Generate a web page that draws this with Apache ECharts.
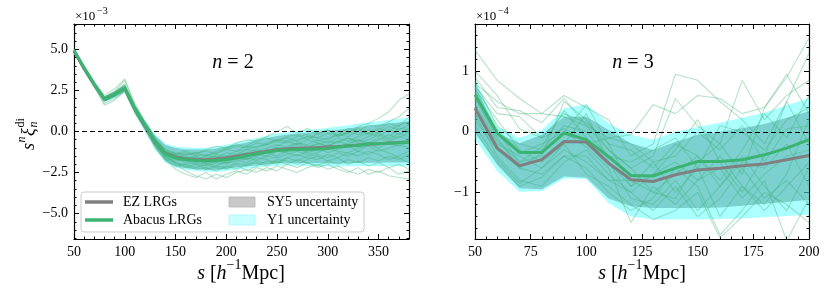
<!DOCTYPE html>
<html><head><meta charset="utf-8">
<script src="https://cdn.jsdelivr.net/npm/echarts@6/dist/echarts.min.js"></script>
<style>html,body{margin:0;padding:0;background:#fff}#c{width:831px;height:295px}</style>
</head><body><div id="c"></div>
<script>
// ---------------- DATA ----------------
const leftX = [50,60,70,80,90,100,110,120,130,140,150,160,170,180,190,200,210,220,230,240,250,260,270,280,290,300,310,320,330,340,350,360,370,380];
const ezLeft = [4.90,3.82,2.85,1.98,2.25,2.62,1.35,0.33,-0.65,-1.32,-1.56,-1.66,-1.70,-1.72,-1.68,-1.60,-1.50,-1.40,-1.30,-1.20,-1.10,-1.05,-1.02,-1.00,-0.98,-0.95,-0.92,-0.87,-0.82,-0.78,-0.74,-0.70,-0.67,-0.63];
const abacusLeft = [4.94,3.88,2.88,1.95,2.25,2.65,1.38,0.40,-0.62,-1.36,-1.61,-1.71,-1.77,-1.80,-1.77,-1.71,-1.61,-1.48,-1.36,-1.26,-1.16,-1.12,-1.10,-1.08,-1.08,-1.04,-0.95,-0.89,-0.85,-0.75,-0.75,-0.71,-0.69,-0.65];
const sy5HiLeft = [5.02,3.94,2.99,2.14,2.43,2.82,1.60,0.63,-0.25,-0.82,-1.01,-1.08,-1.10,-1.10,-1.03,-0.92,-0.80,-0.67,-0.54,-0.40,-0.27,-0.19,-0.12,-0.07,-0.02,0.05,0.11,0.19,0.28,0.35,0.42,0.49,0.55,0.62];
const sy5LoLeft = [4.78,3.70,2.71,1.82,2.07,2.42,1.10,0.03,-1.05,-1.82,-2.11,-2.24,-2.30,-2.34,-2.33,-2.28,-2.20,-2.13,-2.06,-2.00,-1.93,-1.91,-1.92,-1.93,-1.94,-1.95,-1.95,-1.93,-1.92,-1.91,-1.90,-1.89,-1.89,-1.88];
const y1HiLeft = [5.04,3.96,3.02,2.17,2.46,2.86,1.65,0.68,-0.18,-0.73,-0.91,-0.98,-0.99,-0.99,-0.91,-0.80,-0.67,-0.54,-0.40,-0.26,-0.12,-0.04,0.04,0.10,0.15,0.23,0.30,0.38,0.48,0.55,0.63,0.70,0.77,0.85];
const y1LoLeft = [4.76,3.68,2.68,1.79,2.04,2.38,1.05,-0.02,-1.12,-1.91,-2.21,-2.34,-2.41,-2.45,-2.45,-2.40,-2.33,-2.26,-2.20,-2.14,-2.08,-2.06,-2.08,-2.10,-2.11,-2.13,-2.14,-2.12,-2.12,-2.11,-2.11,-2.10,-2.11,-2.11];
const mockL1 = [5.0,3.9,2.9,2.0,2.35,2.8,1.5,0.4,-0.6,-1.3,-1.5,-1.6,-1.5,-1.7,-1.4,-1.5,-1.2,-1.1,-0.9,-0.8,-0.6,-0.7,-0.5,-0.3,-0.6,-0.4,-0.2,-0.1,0.3,0.5,0.8,1.2,1.9,2.3];
const mockL2 = [4.9,3.8,2.8,1.9,2.2,2.6,1.3,0.3,-0.7,-1.5,-1.9,-2.1,-2.3,-2.2,-2.4,-2.1,-2.3,-2.0,-1.9,-2.1,-1.8,-2.0,-1.7,-1.9,-2.2,-2.0,-2.3,-2.5,-2.2,-2.6,-2.4,-2.7,-2.8,-2.9];
const mockL3 = [4.95,3.85,2.9,2.05,2.35,2.75,1.4,0.45,-0.5,-1.1,-1.3,-1.4,-1.3,-1.5,-1.2,-1.0,-0.8,-0.9,-0.5,-0.4,-0.6,-0.3,-0.2,-0.5,-0.1,0.1,-0.2,0.2,0.0,0.4,0.3,0.6,0.9,1.4];
const mockL4 = [4.9,3.75,2.75,1.85,2.15,2.55,1.25,0.25,-0.8,-1.6,-2.0,-2.4,-2.7,-2.9,-2.6,-2.8,-2.5,-2.3,-2.5,-2.2,-2.4,-2.0,-2.2,-1.9,-2.1,-1.8,-2.0,-1.7,-1.9,-1.6,-1.8,-1.5,-1.7,-1.4];
const mockL5 = [5.0,3.9,2.95,2.1,2.4,2.9,1.55,0.5,-0.55,-1.25,-1.45,-1.5,-1.7,-1.5,-1.3,-1.1,-1.2,-0.9,-1.0,-0.7,-0.5,-0.6,-0.3,-0.2,-0.4,-0.5,-0.2,-0.3,0.0,-0.1,0.2,0.0,0.4,0.6];
const mockL6 = [4.92,3.8,2.85,1.95,2.25,2.65,1.35,0.35,-0.6,-1.4,-1.7,-1.8,-2.0,-1.9,-2.1,-1.8,-1.6,-1.7,-1.4,-1.5,-1.2,-1.3,-1.5,-1.2,-1.0,-1.3,-1.1,-0.9,-1.2,-0.8,-1.0,-0.7,-0.9,-0.6];
const mockL7 = [4.88,3.75,2.8,1.9,2.2,2.6,1.3,0.3,-0.7,-1.4,-1.6,-1.9,-1.7,-2.0,-2.2,-2.3,-2.0,-2.4,-2.1,-1.8,-2.0,-1.6,-1.8,-1.5,-1.4,-1.6,-1.3,-1.5,-1.2,-1.4,-1.1,-1.3,-1.6,-1.9];
const mockL8 = [4.96,3.88,2.88,2.0,2.3,2.7,1.4,0.4,-0.6,-1.3,-1.6,-1.6,-1.8,-1.6,-1.5,-1.6,-1.4,-1.3,-1.5,-1.1,-1.2,-0.9,-0.7,-0.9,-0.8,-0.6,-0.7,-0.4,-0.6,-0.3,-0.1,-0.4,0.2,0.1];
const mockL9 = [4.93,3.83,2.82,1.92,2.28,2.62,1.32,0.32,-0.68,-1.45,-1.8,-1.7,-1.9,-1.7,-1.6,-1.8,-1.5,-1.6,-1.2,-1.3,-1.0,-1.1,-0.8,-1.0,-0.7,-0.9,-0.6,-0.8,-0.5,-0.7,-0.4,-0.6,-0.3,-0.5];
const mockL10 = [4.97,3.86,2.87,1.98,2.32,2.72,1.42,0.42,-0.58,-1.35,-1.5,-1.65,-1.6,-1.85,-1.7,-1.9,-1.8,-1.6,-1.75,-1.5,-1.6,-1.4,-1.2,-1.4,-1.3,-1.0,-1.2,-1.3,-1.0,-0.9,-1.2,-1.0,-0.8,-1.0];
const mockL11 = [4.9,3.78,2.78,1.88,2.18,2.58,1.28,0.28,-0.72,-1.5,-1.9,-2.0,-1.9,-2.1,-1.9,-2.0,-1.7,-1.9,-1.6,-1.7,-1.9,-1.6,-1.4,-1.6,-1.7,-1.4,-1.6,-2.0,-1.8,-2.1,-1.9,-2.2,-2.0,-2.3];
const mockL12 = [4.95,3.86,2.86,1.96,2.26,2.66,1.36,0.36,-0.64,-1.3,-1.4,-1.45,-1.3,-1.2,-1.35,-1.1,-0.9,-1.0,-0.7,-0.8,-0.5,-0.4,-0.6,-0.3,-0.4,-0.1,-0.3,0.0,-0.2,0.1,-0.1,0.3,0.1,0.4];
const mockL13 = [4.91,3.79,2.79,1.89,2.19,2.59,1.29,0.29,-0.75,-1.7,-2.3,-2.6,-2.8,-2.5,-2.9,-2.6,-2.4,-2.6,-2.2,-2.4,-2.1,-2.3,-2.5,-2.2,-2.0,-2.3,-2.1,-2.4,-2.6,-2.3,-2.5,-2.2,-2.6,-2.4];
const mockL14 = [4.98,3.9,2.92,2.02,2.38,2.82,1.45,0.42,-0.55,-1.2,-1.35,-1.2,-1.4,-1.1,-0.9,-1.0,-0.7,-0.5,-0.6,-0.3,0.0,0.3,-0.1,0.2,-0.2,0.1,-0.3,-0.1,0.2,-0.2,0.1,0.5,0.3,0.9];
const mockL15 = [4.85,3.7,2.7,1.7,2.0,2.4,1.15,0.15,-0.9,-1.7,-2.1,-2.0,-2.2,-2.0,-1.8,-1.9,-1.6,-1.7,-1.5,-1.3,-1.5,-1.2,-1.0,-1.3,-1.1,-0.8,-1.0,-0.7,-0.5,-0.8,-0.5,-0.2,-0.4,0.0];
const mockL16 = [5.05,4.0,3.05,2.2,2.6,3.2,1.7,0.6,-0.4,-1.1,-1.4,-1.3,-1.5,-1.4,-1.6,-1.3,-1.4,-1.1,-1.2,-1.0,-0.8,-1.0,-0.7,-0.8,-0.5,-0.7,-0.4,-0.6,-0.3,-0.1,-0.3,0.1,-0.2,0.2];
const mockL17 = [4.9,3.72,2.72,1.6,1.9,2.5,1.2,0.2,-0.85,-1.55,-1.9,-2.2,-2.0,-2.3,-2.1,-2.2,-1.9,-2.1,-1.8,-2.0,-1.7,-1.8,-2.0,-1.7,-1.5,-1.8,-1.6,-1.3,-1.5,-1.2,-1.4,-1.7,-1.5,-1.2];
const mockL18 = [4.95,3.9,2.9,2.1,2.45,3.1,1.6,0.5,-0.5,-1.2,-1.5,-1.7,-1.6,-1.8,-1.9,-1.7,-1.5,-1.3,-1.1,-1.3,-0.9,-0.6,-0.8,-0.5,-0.7,-0.9,-0.6,-0.4,-0.7,-0.5,-0.2,-0.5,-0.1,-0.3];
const mocksLeft = [mockL1,mockL2,mockL3,mockL4,mockL5,mockL6,mockL7,mockL8,mockL9,mockL10,mockL11,mockL12,mockL13,mockL14,mockL15,mockL16,mockL17,mockL18];

const rightX = [50,60,70,80,90,100,110,120,130,140,150,160,170,180,190,200];
const ezRight = [0.39,-0.27,-0.56,-0.46,-0.16,-0.17,-0.52,-0.79,-0.82,-0.71,-0.63,-0.60,-0.56,-0.53,-0.46,-0.39];
const abacusRight = [0.61,-0.02,-0.34,-0.34,-0.02,-0.13,-0.41,-0.72,-0.73,-0.60,-0.49,-0.49,-0.46,-0.38,-0.27,-0.13];
const sy5HiRight = [0.78,-0.02,-0.19,-0.05,0.25,0.25,0.03,-0.19,-0.30,-0.17,-0.05,0.00,0.06,0.13,0.23,0.34];
const sy5LoRight = [0.00,-0.55,-0.93,-0.95,-0.74,-0.76,-1.10,-1.23,-1.26,-1.26,-1.26,-1.25,-1.22,-1.19,-1.16,-1.12];
const y1HiRight = [0.88,0.08,-0.10,0.03,0.39,0.45,0.14,-0.05,-0.13,0.00,0.08,0.15,0.23,0.32,0.44,0.56];
const y1LoRight = [-0.12,-0.65,-0.99,-0.98,-0.77,-0.78,-1.18,-1.40,-1.45,-1.45,-1.45,-1.44,-1.43,-1.41,-1.39,-1.37];
const mockR1 = [1.35,0.85,0.55,0.3,0.25,0.1,-0.1,-0.05,0.45,0.3,0.6,0.55,0.3,0.4,0.9,1.55];
const mockR2 = [0.8,0.5,0.3,0.3,0.6,0.4,0.2,-0.4,-0.2,0.95,0.85,0.5,0.2,-0.2,0.5,1.3];
const mockR3 = [0.9,0.4,0.35,0.15,0.55,0.1,-0.3,-0.6,-0.4,0.55,0.1,-0.2,0.85,0.2,0.6,0.85];
const mockR4 = [0.55,-0.1,-0.6,-0.35,0.0,0.45,-0.2,-0.9,-0.5,-1.0,-0.6,-1.4,-0.9,-1.2,-0.7,0.2];
const mockR5 = [0.7,0.2,-0.3,-0.5,-0.2,0.3,-0.5,-1.1,-1.2,-0.8,-1.3,-0.9,-0.4,-0.9,-1.3,-0.6];
const mockR6 = [0.3,-0.4,-0.8,-0.9,-0.5,-0.3,-0.7,-1.0,-0.7,-0.3,0.2,-0.5,-1.0,-0.4,0.5,-0.2];
const mockR7 = [0.2,-0.3,-0.6,-0.7,-0.4,-0.6,-1.0,-1.3,-1.1,-0.6,-0.9,-1.7,-1.3,-0.8,-1.8,-1.1];
const mockR8 = [0.6,0.0,-0.5,-0.4,0.5,0.2,-0.3,-0.6,-1.0,-1.1,-0.5,-0.2,-0.7,0.4,0.95,0.3];
const mockR9 = [0.4,-0.2,-0.4,-0.6,-0.3,-0.5,-0.8,-0.8,-1.0,-0.7,-0.4,-0.9,-0.5,-0.6,-0.2,-0.9];
const mockR10 = [0.8,0.1,-0.2,-0.3,0.1,0.0,-0.4,-0.5,-0.3,-0.1,-0.6,0.1,0.0,-0.3,0.2,0.4];
const mockR11 = [0.1,-0.45,-0.85,-0.6,-0.2,-0.7,-0.9,-1.2,-1.45,-1.3,-1.0,-1.75,-1.4,-1.0,-1.2,-1.5];
const mockR12 = [0.65,0.05,-0.35,-0.2,0.0,-0.25,-0.6,-1.5,-0.9,-1.2,-0.8,-0.6,-1.1,-0.7,-0.4,-0.3];
const mockR13 = [1.0,0.6,0.05,-0.1,0.3,0.15,-0.2,-0.3,-0.6,-0.2,-0.4,-0.8,-0.3,0.3,-0.1,0.6];
const mockR14 = [0.45,-0.15,-0.5,-0.25,0.35,-0.1,-0.5,-0.9,-0.7,-0.5,-0.8,-0.4,-0.9,-1.3,-0.9,-0.5];
const mockR15 = [0.0,-0.5,-0.9,-0.75,-0.4,-0.4,-0.8,-1.0,-1.3,-0.9,-1.4,-1.1,-0.6,-1.1,-0.8,-1.2];
const mockR16 = [0.75,0.3,0.25,-0.1,0.05,-0.2,-0.1,-0.2,-0.5,-0.4,0.0,-0.3,0.1,-0.5,0.05,0.1];
const mocksRight = [mockR1,mockR2,mockR3,mockR4,mockR5,mockR6,mockR7,mockR8,mockR9,mockR10,mockR11,mockR12,mockR13,mockR14,mockR15,mockR16];

// tick values
const leftXMajor = [50,100,150,200,250,300,350];
const leftXMinor = [60,70,80,90,110,120,130,140,160,170,180,190,210,220,230,240,260,270,280,290,310,320,330,340,360,370];
const leftYMajor = [-5,-2.5,0,2.5,5];
const leftYMinor = [-6.5,-6,-5.5,-4.5,-4,-3.5,-3,-2,-1.5,-1,-0.5,0.5,1,1.5,2,3,3.5,4,4.5,5.5,6,6.5];
const rightXMajor = [50,75,100,125,150,175,200];
const rightXMinor = [55,60,65,70,80,85,90,95,105,110,115,120,130,135,140,145,155,160,165,170,180,185,190,195];
const rightYMajor = [-1,0,1];
const rightYMinor = [-1.6,-1.4,-1.2,-0.8,-0.6,-0.4,-0.2,0.2,0.4,0.6,0.8,1.2,1.4,1.6];

// ---------------- STYLE ----------------
const SERIF = '"Liberation Serif", "DejaVu Serif", serif';
const GREEN = '#3cb371';
const GRAY = '#808080';
const THIN = 'rgba(60,179,113,0.38)';
const SY5_FILL = 'rgba(128,128,128,0.55)';
const Y1_FILL = 'rgba(0,255,255,0.33)';
const minus = s => s.replace('-', '\u2212');

const chart = echarts.init(document.getElementById('c'), null, {renderer: 'canvas'});

const grids = [
  {left: 74, top: 24, width: 335, height: 215},
  {left: 475, top: 24, width: 334, height: 215}
];
const ranges = [
  {xmin: 50, xmax: 380, ymin: -6.55, ymax: 6.55, xMaj: leftXMajor, xMin: leftXMinor, yMaj: leftYMajor, yMin: leftYMinor, yFmt: v => minus(v.toFixed(1))},
  {xmin: 50, xmax: 200, ymin: -1.77, ymax: 1.78, xMaj: rightXMajor, xMin: rightXMinor, yMaj: rightYMajor, yMin: rightYMinor, yFmt: v => minus(String(v))}
];

function axis(dim, g, pos, vals, len, labels, line, fmt) {
  const r = ranges[g];
  return {
    type: 'value', gridIndex: g, position: pos,
    min: dim === 'x' ? r.xmin : r.ymin, max: dim === 'x' ? r.xmax : r.ymax,
    axisLine: {show: line, onZero: false, lineStyle: {color: '#000', width: 1.2}},
    axisTick: {show: true, inside: true, length: len, customValues: vals, lineStyle: {color: '#000', width: 1}},
    axisLabel: {show: labels, customValues: vals, formatter: fmt, color: '#000', fontFamily: SERIF, fontSize: 14, margin: 6},
    splitLine: {show: false}, minorTick: {show: false}
  };
}
const xAxes = [], yAxes = [];
[0, 1].forEach(g => {
  const r = ranges[g];
  xAxes.push(axis('x', g, 'bottom', r.xMaj, 5, true, true, v => String(v)));
  xAxes.push(axis('x', g, 'bottom', r.xMin, 2.5, false, false));
  xAxes.push(axis('x', g, 'top', r.xMaj, 5, false, true));
  xAxes.push(axis('x', g, 'top', r.xMin, 2.5, false, false));
  yAxes.push(axis('y', g, 'left', r.yMaj, 5, true, true, r.yFmt));
  yAxes.push(axis('y', g, 'left', r.yMin, 2.5, false, false));
  yAxes.push(axis('y', g, 'right', r.yMaj, 5, false, true));
  yAxes.push(axis('y', g, 'right', r.yMin, 2.5, false, false));
});

function band(xs, lo, hi, color, ai, name, z) {
  return {
    type: 'custom', name: name, xAxisIndex: ai, yAxisIndex: ai, z: z, silent: true, clip: true,
    data: xs.map((x, i) => [x, lo[i], hi[i]]),
    encode: {x: 0, y: [1, 2]},
    renderItem: (params, api) => {
      if (params.dataIndex !== 0) return null;
      const top = xs.map((x, i) => api.coord([x, hi[i]]));
      const bot = xs.map((x, i) => api.coord([x, lo[i]])).reverse();
      return {type: 'polygon', shape: {points: top.concat(bot)}, style: {fill: color}};
    }
  };
}
function line(xs, ys, color, width, ai, z, name, extra) {
  return Object.assign({
    type: 'line', name: name, xAxisIndex: ai, yAxisIndex: ai, z: z, silent: true,
    data: xs.map((x, i) => [x, ys[i]]), showSymbol: false, symbol: 'none', clip: true,
    lineStyle: {color: color, width: width}, animation: false
  }, extra || {});
}
const zeroLine = {silent: true, symbol: 'none', label: {show: false},
  lineStyle: {type: [5, 3], color: '#000', width: 1}, data: [{yAxis: 0}]};

const series = [];
[[leftX, ezLeft, abacusLeft, sy5LoLeft, sy5HiLeft, y1LoLeft, y1HiLeft, mocksLeft, 0],
 [rightX, ezRight, abacusRight, sy5LoRight, sy5HiRight, y1LoRight, y1HiRight, mocksRight, 4]].forEach(p => {
  const [xs, ez, ab, slo, shi, ylo, yhi, mocks, ai] = p;
  series.push(band(xs, slo, shi, SY5_FILL, ai, 'SY5 uncertainty', 1));
  series.push(band(xs, ylo, yhi, Y1_FILL, ai, 'Y1 uncertainty', 1));
  mocks.forEach(m => series.push(line(xs, m, THIN, 1.1, ai, 2, 'mock')));
  series.push(line(xs, ez, GRAY, 3, ai, 4, 'EZ LRGs', {markLine: zeroLine}));
  series.push(line(xs, ab, GREEN, 3, ai, 5, 'Abacus LRGs'));
});

const T = (x, y, text, size, opts) => Object.assign({type: 'text', x: x, y: y, z: 100,
  style: Object.assign({text: text, fontFamily: SERIF, fontSize: size, fill: '#000', align: 'left', verticalAlign: 'middle'}, (opts || {}).style || {})},
  (opts || {}).el || {});
const rich = size => ({
  i: {fontStyle: 'italic', fontFamily: SERIF, fontSize: size},
  r: {fontFamily: SERIF, fontSize: size},
  sup: {fontFamily: SERIF, fontSize: Math.round(size * 0.68), verticalAlign: 'top', lineHeight: size * 1.6}
});

const graphic = [
  {type: 'text', x: 233, y: 63, z: 100, style: {text: '{i|n}{r| = 2}', rich: rich(20), align: 'center', verticalAlign: 'middle'}},
  {type: 'text', x: 633, y: 63, z: 100, style: {text: '{i|n}{r| = 3}', rich: rich(20), align: 'center', verticalAlign: 'middle'}},
  T(75, 17, '\u00d710', 13), T(97, 11, '\u22123', 10),
  T(476, 17, '\u00d710', 13), T(498, 11, '\u22124', 10),
  {type: 'text', x: 241, y: 274, z: 100, style: {text: '{i|s}{r| [}{i|h}{sup|\u22121}{r|Mpc]}', rich: rich(20), align: 'center', verticalAlign: 'middle'}},
  {type: 'text', x: 642, y: 274, z: 100, style: {text: '{i|s}{r| [}{i|h}{sup|\u22121}{r|Mpc]}', rich: rich(20), align: 'center', verticalAlign: 'middle'}},
  {type: 'group', x: 29, y: 131, rotation: Math.PI / 2, z: 100, children: [
    T(-19, 0, 's', 18, {style: {fontStyle: 'italic'}}),
    T(-11.5, -7, 'n', 12, {style: {fontStyle: 'italic'}}),
    T(-5, 0, '\u03be', 18, {style: {fontStyle: 'italic'}}),
    T(3.5, -8, 'di', 12),
    T(3.5, 5, 'n', 12, {style: {fontStyle: 'italic'}})
  ]},
  {type: 'rect', z: 90, shape: {x: 81, y: 192, width: 283, height: 40, r: 3},
   style: {fill: 'rgba(255,255,255,0.85)', stroke: '#cccccc', lineWidth: 1}},
  {type: 'line', z: 91, shape: {x1: 85, y1: 202, x2: 113, y2: 202}, style: {stroke: GRAY, lineWidth: 3.5}},
  {type: 'line', z: 91, shape: {x1: 85, y1: 220, x2: 113, y2: 220}, style: {stroke: GREEN, lineWidth: 3.5}},
  {type: 'rect', z: 91, shape: {x: 229, y: 197, width: 26, height: 10}, style: {fill: '#c9c9c9', stroke: '#b5b5b5', lineWidth: 0.8}},
  {type: 'rect', z: 91, shape: {x: 229, y: 215, width: 26, height: 10}, style: {fill: '#c8ffff', stroke: '#a8f4f4', lineWidth: 0.8}},
  T(123, 202, 'EZ LRGs', 14), T(123, 220, 'Abacus LRGs', 14),
  T(267, 202, 'SY5 uncertainty', 14), T(267, 220, 'Y1 uncertainty', 14)
];

chart.setOption({
  animation: false,
  backgroundColor: '#fff',
  grid: grids,
  xAxis: xAxes,
  yAxis: yAxes,
  series: series,
  graphic: graphic
});
</script></body></html>
